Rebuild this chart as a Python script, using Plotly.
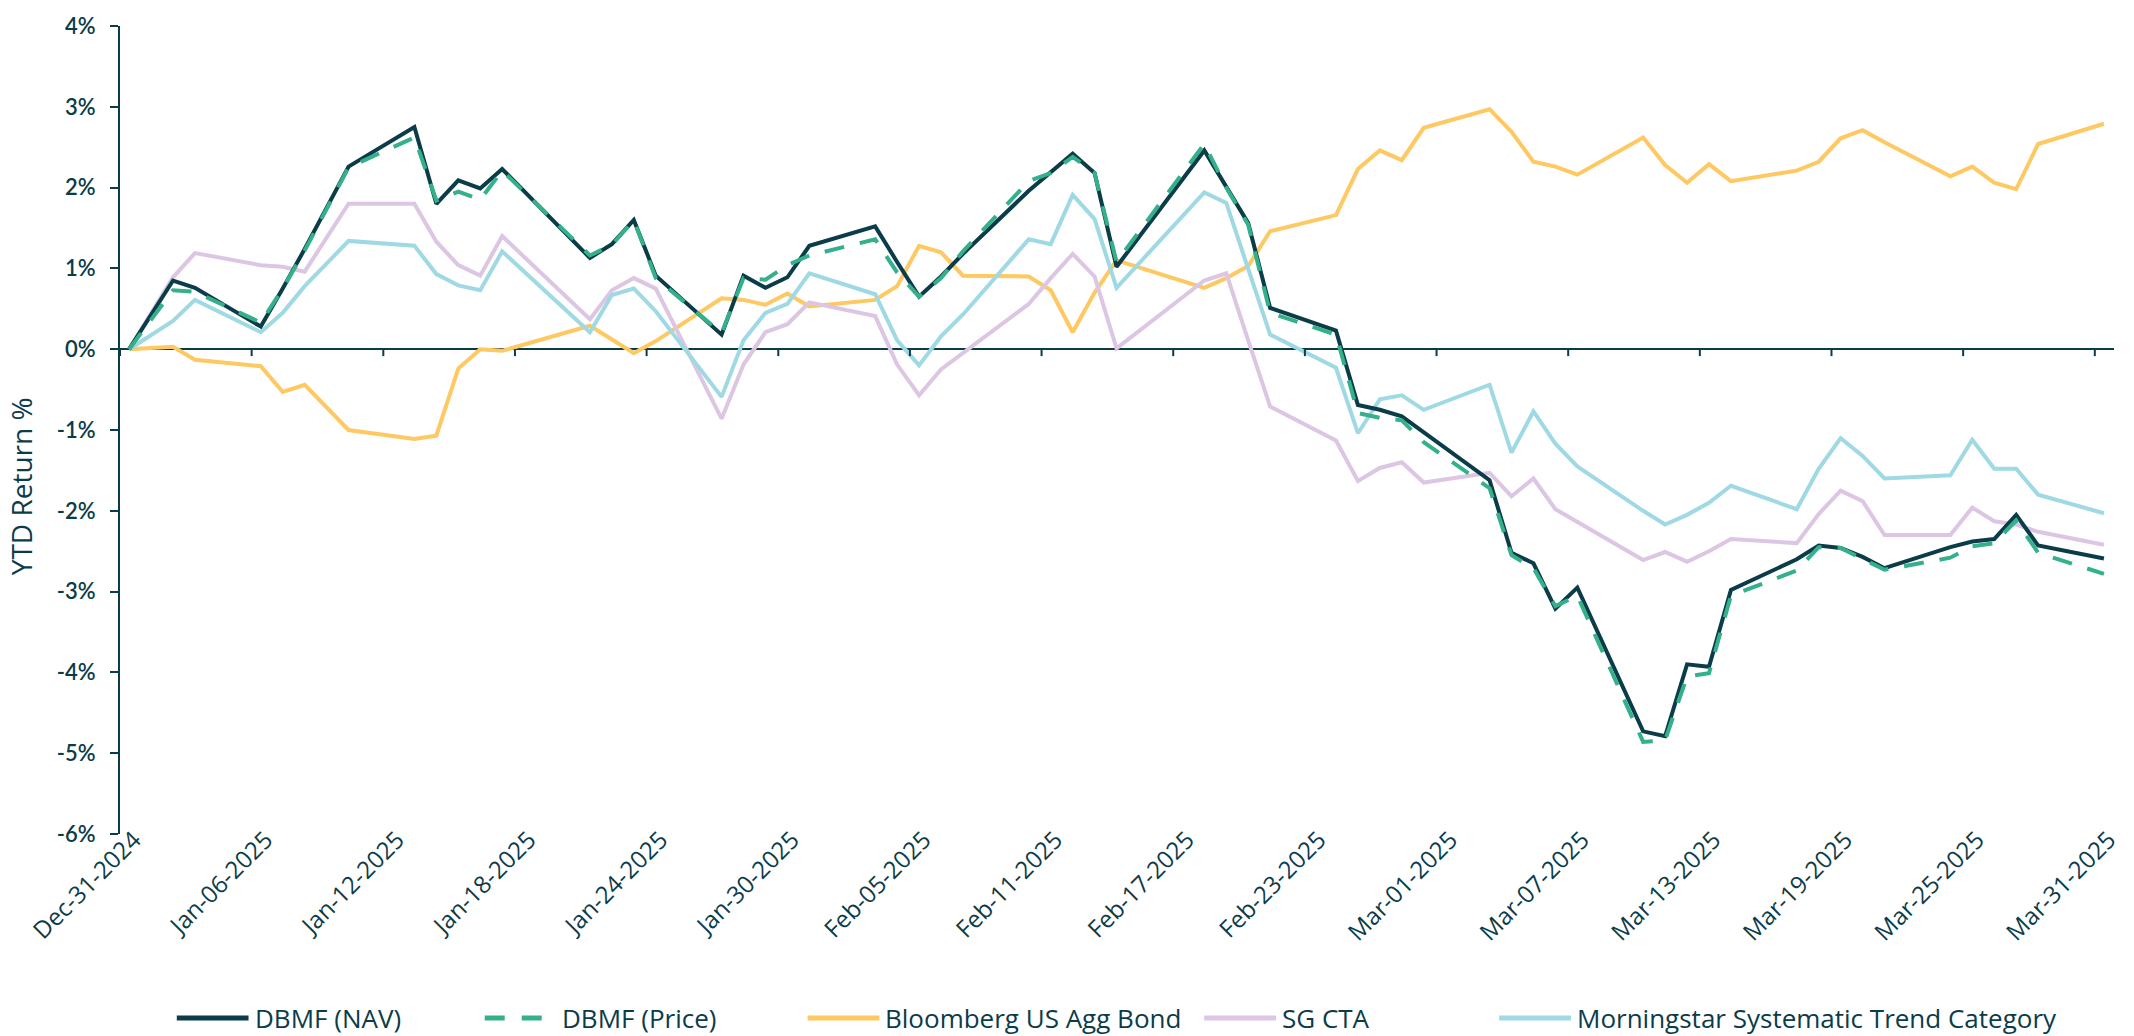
import pandas as pd
import plotly.graph_objects as go

# ---------------- data ----------------
dates = [
    "2024-12-31", "2025-01-02", "2025-01-03", "2025-01-06", "2025-01-07", "2025-01-08",
    "2025-01-10", "2025-01-13", "2025-01-14", "2025-01-15", "2025-01-16", "2025-01-17",
    "2025-01-21", "2025-01-22", "2025-01-23", "2025-01-24", "2025-01-27", "2025-01-28",
    "2025-01-29", "2025-01-30", "2025-01-31", "2025-02-03", "2025-02-04", "2025-02-05",
    "2025-02-06", "2025-02-07", "2025-02-10", "2025-02-11", "2025-02-12", "2025-02-13",
    "2025-02-14", "2025-02-18", "2025-02-19", "2025-02-20", "2025-02-21", "2025-02-24",
    "2025-02-25", "2025-02-26", "2025-02-27", "2025-02-28", "2025-03-03", "2025-03-04",
    "2025-03-05", "2025-03-06", "2025-03-07", "2025-03-10", "2025-03-11", "2025-03-12",
    "2025-03-13", "2025-03-14", "2025-03-17", "2025-03-18", "2025-03-19", "2025-03-20",
    "2025-03-21", "2025-03-24", "2025-03-25", "2025-03-26", "2025-03-27", "2025-03-28",
    "2025-03-31",
]

dbmf_nav = [
    0.00, 0.85, 0.76, 0.28, 0.75, 1.24, 2.26, 2.75, 1.80, 2.09, 1.99, 2.23,
    1.13, 1.30, 1.60, 0.91, 0.18, 0.91, 0.76, 0.89, 1.28, 1.52, 1.08, 0.65,
    0.90, 1.18, 1.96, 2.19, 2.42, 2.18, 1.02, 2.46, 2.01, 1.56, 0.51, 0.23,
    -0.69, -0.75, -0.83, -1.03, -1.62, -2.52, -2.65, -3.21, -2.95, -4.73, -4.79, -3.90,
    -3.93, -2.98, -2.60, -2.43, -2.46, -2.57, -2.71, -2.45, -2.38, -2.35, -2.05, -2.43,
    -2.59,
]

dbmf_price = [
    0.00, 0.73, 0.71, 0.33, 0.75, 1.22, 2.25, 2.62, 1.84, 1.95, 1.85, 2.21,
    1.16, 1.29, 1.60, 0.88, 0.20, 0.88, 0.86, 1.04, 1.16, 1.36, 0.95, 0.65,
    0.88, 1.21, 2.08, 2.18, 2.38, 2.18, 1.08, 2.54, 2.00, 1.54, 0.45, 0.18,
    -0.79, -0.85, -0.88, -1.15, -1.72, -2.55, -2.71, -3.18, -3.05, -4.86, -4.84, -4.05,
    -4.01, -3.05, -2.74, -2.45, -2.46, -2.60, -2.73, -2.58, -2.44, -2.40, -2.12, -2.52,
    -2.78,
]

agg_bond = [
    0.00, 0.03, -0.13, -0.21, -0.53, -0.44, -1.00, -1.11, -1.07, -0.24, 0.00, -0.02,
    0.29, 0.12, -0.05, 0.10, 0.63, 0.61, 0.55, 0.69, 0.53, 0.61, 0.78, 1.28,
    1.20, 0.91, 0.90, 0.73, 0.21, 0.70, 1.10, 0.76, 0.88, 1.03, 1.46, 1.66,
    2.23, 2.46, 2.34, 2.74, 2.97, 2.69, 2.32, 2.26, 2.16, 2.62, 2.28, 2.06,
    2.29, 2.08, 2.21, 2.32, 2.61, 2.71, 2.56, 2.14, 2.26, 2.06, 1.98, 2.54,
    2.79,
]

sg_cta = [
    0.00, 0.89, 1.19, 1.04, 1.02, 0.96, 1.80, 1.80, 1.33, 1.04, 0.91, 1.40,
    0.37, 0.73, 0.88, 0.75, -0.86, -0.19, 0.21, 0.31, 0.58, 0.41, -0.19, -0.57,
    -0.25, -0.05, 0.56, 0.88, 1.18, 0.90, 0.01, 0.85, 0.94, 0.11, -0.71, -1.13,
    -1.63, -1.47, -1.40, -1.65, -1.53, -1.82, -1.60, -1.98, -2.14, -2.61, -2.51, -2.63,
    -2.50, -2.35, -2.40, -2.04, -1.75, -1.88, -2.30, -2.30, -1.96, -2.13, -2.17, -2.26,
    -2.42,
]

ms_trend = [
    0.00, 0.35, 0.61, 0.21, 0.45, 0.78, 1.34, 1.28, 0.93, 0.79, 0.73, 1.21,
    0.21, 0.67, 0.75, 0.47, -0.59, 0.11, 0.45, 0.56, 0.94, 0.68, 0.11, -0.20,
    0.16, 0.43, 1.36, 1.30, 1.91, 1.61, 0.76, 1.94, 1.81, 0.98, 0.18, -0.23,
    -1.04, -0.62, -0.57, -0.75, -0.44, -1.28, -0.77, -1.17, -1.45, -2.00, -2.17, -2.05,
    -1.90, -1.69, -1.98, -1.48, -1.10, -1.32, -1.60, -1.56, -1.12, -1.48, -1.48, -1.80,
    -2.03,
]

series_names = ["DBMF (NAV)", "DBMF (Price)", "Bloomberg US Agg Bond", "SG CTA",
                "Morningstar Systematic Trend Category"]

tick_dates = ["2024-12-31", "2025-01-06", "2025-01-12", "2025-01-18", "2025-01-24",
              "2025-01-30", "2025-02-05", "2025-02-11", "2025-02-17", "2025-02-23",
              "2025-03-01", "2025-03-07", "2025-03-13", "2025-03-19", "2025-03-25",
              "2025-03-31"]
tick_labels = ["Dec-31-2024", "Jan-06-2025", "Jan-12-2025", "Jan-18-2025", "Jan-24-2025",
               "Jan-30-2025", "Feb-05-2025", "Feb-11-2025", "Feb-17-2025", "Feb-23-2025",
               "Mar-01-2025", "Mar-07-2025", "Mar-13-2025", "Mar-19-2025", "Mar-25-2025",
               "Mar-31-2025"]
y_tickvals = [4, 3, 2, 1, 0, -1, -2, -3, -4, -5, -6]
y_ticktext = ["4%", "3%", "2%", "1%", "0%", "-1%", "-2%", "-3%", "-4%", "-5%", "-6%"]

# ---------------- style ----------------
DARK = "#0b3c49"
COLORS = {
    "DBMF (NAV)": DARK,
    "DBMF (Price)": "#34b08b",
    "Bloomberg US Agg Bond": "#fec862",
    "SG CTA": "#dcc6e3",
    "Morningstar Systematic Trend Category": "#9fd9e4",
}
DASHES = {"DBMF (Price)": "20px,16px"}
FONT_TXT = "'Open Sans', 'Noto Sans', sans-serif"
FONT_NUM = "Lato, 'Open Sans', sans-serif"

W, H = 2134, 1036
ML, MR, MT, MB = 120, 13, 17, 202
PW, PH = W - ML - MR, H - MT - MB
YMIN, YMAX = -6, 4

values = {
    "DBMF (NAV)": dbmf_nav,
    "DBMF (Price)": dbmf_price,
    "Bloomberg US Agg Bond": agg_bond,
    "SG CTA": sg_cta,
    "Morningstar Systematic Trend Category": ms_trend,
}

x = pd.to_datetime(dates)
fig = go.Figure()
draw_order = ["Bloomberg US Agg Bond", "SG CTA", "Morningstar Systematic Trend Category",
              "DBMF (NAV)", "DBMF (Price)"]
for name in draw_order:
    fig.add_trace(go.Scatter(
        x=x, y=values[name], name=name, mode="lines",
        line=dict(color=COLORS[name], width=4, dash=DASHES.get(name, "solid")),
        showlegend=False,
        hovertemplate="%{x|%b-%d-%Y}: %{y:.2f}%<extra>" + name + "</extra>",
    ))

offset = pd.Timedelta(hours=10)
tickpos = [pd.Timestamp(t) - offset for t in tick_dates]
xrange_ = [pd.Timestamp(dates[0]) - offset, pd.Timestamp(dates[-1]) + pd.Timedelta(hours=11)]

fig.update_layout(
    width=W, height=H,
    margin=dict(l=ML, r=MR, t=MT, b=MB),
    paper_bgcolor="white", plot_bgcolor="white",
    font=dict(family=FONT_TXT, color=DARK, size=24),
    showlegend=False,
    xaxis=dict(
        type="date", range=xrange_, tickvals=tickpos, ticktext=tick_labels,
        tickangle=-45, ticks="", showline=False, showgrid=False, zeroline=False,
        tickfont=dict(family=FONT_TXT, size=24, color=DARK),
        ticklabelshift=14, ticklabelstandoff=-14,
    ),
    yaxis=dict(
        range=[YMIN, YMAX], tickvals=y_tickvals, ticktext=y_ticktext,
        ticks="outside", ticklen=8, tickwidth=2, tickcolor=DARK,
        showline=True, linewidth=2, linecolor=DARK,
        showgrid=False, zeroline=True, zerolinecolor=DARK, zerolinewidth=2,
        tickfont=dict(family=FONT_NUM, size=22, color=DARK, weight=600),
        ticklabelstandoff=10,
    ),
)

# small date tick marks hanging from the zero line
zero_frac = (0 - YMIN) / (YMAX - YMIN)
for tp in tickpos:
    fig.add_shape(type="line", xref="x", yref="paper", x0=tp, x1=tp,
                  y0=zero_frac, y1=zero_frac - 7 / PH,
                  line=dict(color=DARK, width=2))

# y-axis title
fig.add_annotation(
    text="YTD Return %", textangle=-90, showarrow=False,
    xref="paper", yref="paper",
    x=(21 - ML) / PW, y=(MT + PH - 482) / PH,
    xanchor="center", yanchor="middle",
    font=dict(family=FONT_TXT, size=28, color=DARK),
)

# legend (drawn manually to match swatch length and spacing)
legend_left_px = [177, 486, 810, 1208, 1504]
legend_y_px = 1020
ly = (MT + PH - legend_y_px) / PH
for name, lx in zip(series_names, legend_left_px):
    fig.add_shape(
        type="line", xref="paper", yref="paper",
        x0=(lx - ML) / PW, x1=(lx + 72 - ML) / PW, y0=ly, y1=ly,
        line=dict(color=COLORS[name], width=5,
                  dash=DASHES.get(name, "solid").replace("16px", "17px")),
    )
    fig.add_annotation(
        text=name, showarrow=False, xref="paper", yref="paper",
        x=(lx + 76 - ML) / PW, y=ly, xanchor="left", yanchor="middle",
        font=dict(family=FONT_TXT, size=26, color=DARK),
    )

fig.write_html("out.html", config={"displayModeBar": False},
               post_script="document.body.style.margin='0';")
